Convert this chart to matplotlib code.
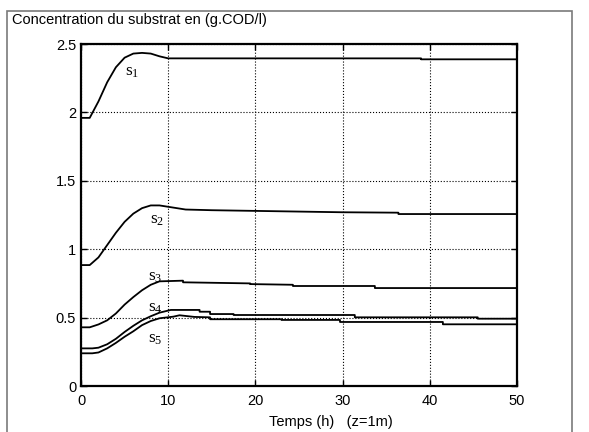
import matplotlib.pyplot as plt
from matplotlib.patches import Rectangle

plt.rcParams['font.family'] = ['Liberation Sans', 'DejaVu Sans']
plt.rcParams['mathtext.fontset'] = 'custom'
plt.rcParams['mathtext.rm'] = 'Liberation Serif'
plt.rcParams['mathtext.it'] = 'Liberation Serif'

# time (h) and substrate concentration (g.COD/l) for each section
t1 = [0, 1, 2, 3, 4, 5, 6, 7, 8, 9, 10, 39, 39, 50]
s1 = [1.96, 1.96, 2.08, 2.22, 2.33, 2.40, 2.43, 2.435, 2.43, 2.41, 2.395, 2.395, 2.388, 2.388]

t2 = [0, 1, 2, 3, 4, 5, 6, 7, 8, 9, 10, 12, 15, 20, 25, 30, 36.4, 36.4, 50]
s2 = [0.884, 0.884, 0.94, 1.03, 1.12, 1.2, 1.26, 1.3, 1.32, 1.32, 1.31, 1.29, 1.285, 1.28,
      1.275, 1.27, 1.267, 1.257, 1.257]

t3 = [0, 1, 2, 3, 4, 5, 6, 7, 8, 9, 11.7, 11.7, 19.4, 19.4, 24.3, 24.3, 33.7, 33.7, 50]
s3 = [0.429, 0.429, 0.45, 0.48, 0.53, 0.595, 0.65, 0.70, 0.74, 0.765, 0.77, 0.758, 0.75,
      0.745, 0.74, 0.731, 0.731, 0.716, 0.716]

t4 = [0, 1.3, 2, 3, 4, 5, 6, 7, 8, 9, 10.3, 13.6, 13.6, 14.8, 14.8, 17.5, 17.5, 31.4, 31.4,
      45.5, 45.5, 50]
s4 = [0.275, 0.275, 0.28, 0.305, 0.345, 0.395, 0.44, 0.48, 0.51, 0.536, 0.556, 0.556, 0.543,
      0.543, 0.526, 0.526, 0.519, 0.519, 0.502, 0.502, 0.492, 0.492]

t5 = [0, 1.3, 2, 3, 4, 5, 6, 7, 8, 9, 10.6, 11.3, 13, 14.8, 14.8, 23, 23, 29.7, 29.7,
      41.5, 41.5, 50]
s5 = [0.239, 0.239, 0.245, 0.275, 0.315, 0.36, 0.40, 0.445, 0.475, 0.495, 0.507, 0.517, 0.505,
      0.502, 0.488, 0.488, 0.483, 0.483, 0.468, 0.468, 0.451, 0.451]

series = [(t1, s1), (t2, s2), (t3, s3), (t4, s4), (t5, s5)]
label_pos = [(5.9, 2.29), (8.7, 1.21), (8.5, 0.79), (8.5, 0.57), (8.5, 0.34)]

fig = plt.figure(figsize=(5.89, 4.32), dpi=100)
fig.patches.append(Rectangle((7 / 589, -0.05), 565 / 589, 1 - 11 / 432 + 0.05,
                             transform=fig.transFigure, fill=False,
                             edgecolor='#7a7a7a', linewidth=1.2))
fig.text(12 / 589, 1 - 20 / 432, 'Concentration du substrat en (g.COD/l)',
         fontsize=10.5, va='center', ha='left')

ax = fig.add_axes([81 / 589, 46 / 432, 436 / 589, 342 / 432])
for t, s in series:
    ax.plot(t, s, color='black', linewidth=1.3)

for i, (x, y) in enumerate(label_pos):
    ax.text(x, y, r'$\mathrm{s}_{%d}$' % (i + 1), fontsize=12.5, ha='center', va='center')

ax.set_xlim(0, 50)
ax.set_ylim(0, 2.5)
ax.set_xticks([0, 10, 20, 30, 40, 50])
ax.set_yticks([0, 0.5, 1, 1.5, 2, 2.5])
ax.set_yticklabels(['0', '0.5', '1', '1.5', '2', '2.5'])
ax.grid(True, color='black', linestyle=':', linewidth=0.8)
ax.tick_params(direction='in', labelsize=10.5, length=4, width=1, top=True, right=True)
ax.tick_params(axis='x', pad=6)
for sp in ax.spines.values():
    sp.set_linewidth(1.6)
ax.set_xlabel('Temps (h)   (z=1m)', fontsize=10.5)
ax.xaxis.set_label_coords(0.573, -0.085)

fig.savefig('out.png', dpi=100)
